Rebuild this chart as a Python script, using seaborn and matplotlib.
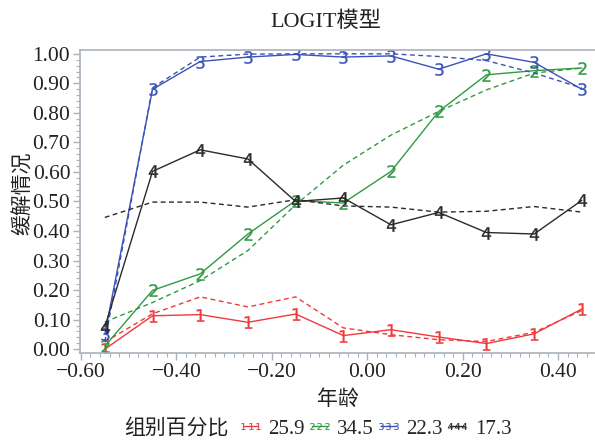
import numpy as np
import pandas as pd
import matplotlib
matplotlib.use("Agg")
import matplotlib.pyplot as plt
from matplotlib.ticker import FixedLocator, MultipleLocator, FixedFormatter
from matplotlib.lines import Line2D
import seaborn as sns

# age (centred) groups
age = [-0.55, -0.45, -0.35, -0.25, -0.15, -0.05, 0.05, 0.15, 0.25, 0.35, 0.45]

# observed remission proportions per class
obs_1 = [0.000, 0.113, 0.117, 0.091, 0.119, 0.046, 0.066, 0.041, 0.019, 0.052, 0.136]
obs_2 = [0.010, 0.199, 0.255, 0.390, 0.503, 0.495, 0.602, 0.805, 0.929, 0.943, 0.952]
obs_3 = [0.050, 0.880, 0.974, 0.989, 0.998, 0.989, 0.993, 0.948, 1.000, 0.971, 0.880]
obs_4 = [0.075, 0.602, 0.675, 0.644, 0.500, 0.512, 0.421, 0.463, 0.395, 0.390, 0.504]

# LOGIT model fitted proportions per class
fit_1 = [0.024, 0.120, 0.177, 0.143, 0.177, 0.072, 0.049, 0.032, 0.026, 0.057, 0.131]
fit_2 = [0.092, 0.158, 0.232, 0.334, 0.489, 0.623, 0.725, 0.805, 0.878, 0.935, 0.952]
fit_3 = [0.025, 0.885, 0.989, 0.999, 1.000, 1.000, 1.000, 0.991, 0.977, 0.935, 0.884]
fit_4 = [0.446, 0.498, 0.498, 0.481, 0.506, 0.485, 0.481, 0.464, 0.467, 0.483, 0.464]

class_ids = ["1", "2", "3", "4"]
class_pct = ["25.9", "34.5", "22.3", "17.3"]
colors = ["#f0393c", "#2f9a42", "#3a52b8", "#2a2a2a"]

title = "LOGIT模型"
xlabel = "年龄"
ylabel = "缓解情况"
legend_title = "组别百分比"

sns.set_theme(style="ticks")
plt.rcParams["font.family"] = ["Liberation Serif", "Noto Sans CJK SC", "DejaVu Sans"]
plt.rcParams["axes.unicode_minus"] = True

fig = plt.figure(figsize=(5.95, 4.41), dpi=100)
ax = fig.add_axes([80 / 595, 1 - 353 / 441, 1 - 80 / 595 + 0.01, (353 - 50) / 441])

observed = [obs_1, obs_2, obs_3, obs_4]
fitted = [fit_1, fit_2, fit_3, fit_4]

handles = []
for cid, col, o, f in zip(class_ids, colors, observed, fitted):
    dfo = pd.DataFrame({"age": age, "p": o})
    dff = pd.DataFrame({"age": age, "p": f})
    sns.lineplot(data=dff, x="age", y="p", ax=ax, color=col, lw=1.0,
                 linestyle=(0, (3.5, 2.5)), sort=False)
    sns.lineplot(data=dfo, x="age", y="p", ax=ax, color=col, lw=1.0,
                 marker=f"${cid}$", markersize=9, markeredgewidth=0.2,
                 markeredgecolor=col, markerfacecolor=col, sort=False)
    handles.append(Line2D([], [], color=col, lw=1.0, marker=f"${cid}$",
                          markersize=5, markeredgewidth=0.1,
                          markeredgecolor=col, markerfacecolor=col))

ax.set_xlim(-0.602, 0.49)
ax.set_ylim(-0.013, 1.013)

xt = [-0.60, -0.40, -0.20, 0.00, 0.20, 0.40]
ax.xaxis.set_major_locator(FixedLocator(xt))
ax.xaxis.set_major_formatter(FixedFormatter([f"{v:.2f}".replace("-", "\u2212") for v in xt]))
ax.xaxis.set_minor_locator(MultipleLocator(0.02))
yt = np.round(np.arange(0, 1.01, 0.1), 2)
ax.yaxis.set_major_locator(FixedLocator(yt))
ax.yaxis.set_major_formatter(FixedFormatter([f"{v:.2f}" for v in yt]))
ax.yaxis.set_minor_locator(MultipleLocator(0.02))

spine_col = "#a9b1ba"
for s in ax.spines.values():
    s.set_visible(True)
    s.set_color(spine_col)
    s.set_linewidth(1.2)
ax.tick_params(axis="both", which="major", direction="out", length=5, width=1.0,
               color=spine_col, labelsize=15.5, labelcolor="#222222", pad=2)
ax.tick_params(axis="both", which="minor", direction="out", length=3, width=0.8,
               color=spine_col)
ax.set_xlabel("")
ax.set_ylabel("")

fig.text(326 / 595, 1 - 22 / 441, title, ha="center", va="center", fontsize=16, color="#222222")
fig.text(338 / 595, 1 - 400 / 441, xlabel, ha="center", va="center", fontsize=15, color="#222222")
fig.text(24 / 595, 1 - 193 / 441, ylabel, ha="center", va="center", rotation=90,
         fontsize=15, color="#222222")
fig.text(228 / 595, 1 - 429 / 441, legend_title, ha="right", va="center", fontsize=15,
         color="#222222")

fig.legend(handles, class_pct, loc="center left", bbox_to_anchor=(237 / 595, 1 - 429 / 441),
           ncol=4, frameon=False, fontsize=15, handlelength=1.3, handletextpad=0.2,
           columnspacing=0.05, numpoints=3, borderpad=0, borderaxespad=0)

fig.savefig("out.png", dpi=100)
